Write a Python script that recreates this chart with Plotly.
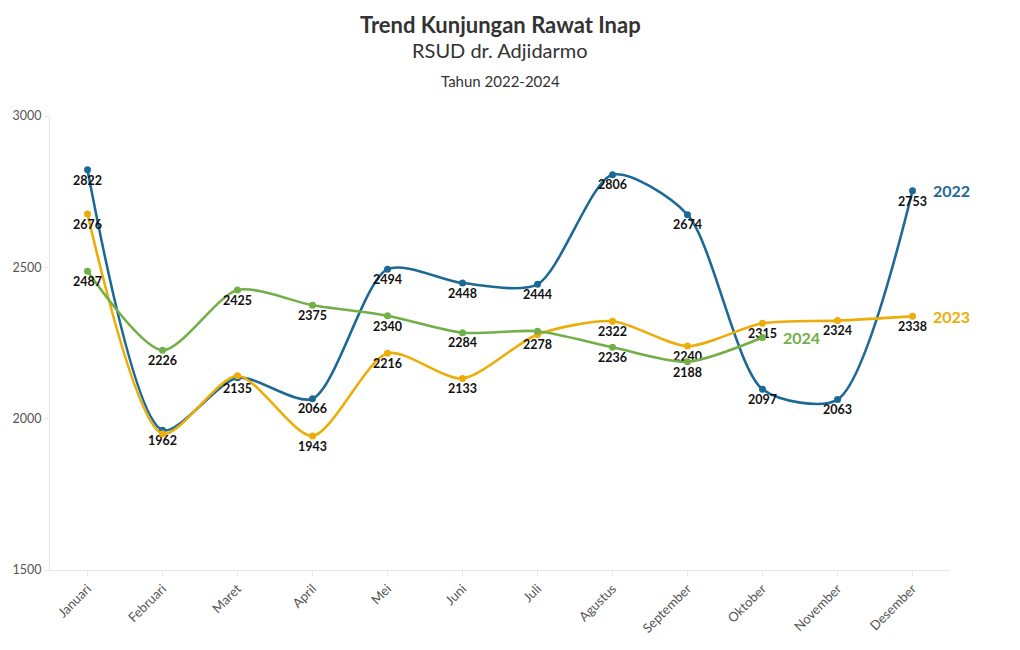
import plotly.graph_objects as go

months = ["Januari", "Februari", "Maret", "April", "Mei", "Juni", "Juli",
          "Agustus", "September", "Oktober", "November", "Desember"]
v2022 = [2822, 1962, 2135, 2066, 2494, 2448, 2444, 2806, 2674, 2097, 2063, 2753]
v2023 = [2676, 1950, 2142, 1943, 2216, 2133, 2278, 2322, 2240, 2315, 2324, 2338]
v2024 = [2487, 2226, 2425, 2375, 2340, 2284, 2289, 2236, 2188, 2268]
# labels hidden where they overlap in the reference
show2022 = [True] * 12
show2023 = [True, False, False, True, True, True, True, True, True, True, True, True]
show2024 = [True, True, True, True, True, True, False, True, True, False]

series = [
    ("2022", v2022, show2022, "#1D6996"),
    ("2023", v2023, show2023, "#EDAD08"),
    ("2024", v2024, show2024, "#73AF48"),
]

FONT = "Source Sans Pro, Lato, Noto Sans, sans-serif"

fig = go.Figure()
for name, vals, show, col in series:
    fig.add_trace(go.Scatter(
        x=months[:len(vals)], y=vals, name=name,
        mode="lines+markers+text",
        line=dict(color=col, width=2.6, shape="spline", smoothing=0.75),
        marker=dict(color=col, size=7),
        text=[str(v) if s else "" for v, s in zip(vals, show)],
        textposition="bottom center",
        textfont=dict(family=FONT, size=12.5, color="#111111", weight="bold"),
        cliponaxis=False,
        showlegend=False,
    ))
    fig.add_annotation(
        x=months[len(vals) - 1], y=vals[-1], text=f"<b>{name}</b>",
        showarrow=False, xanchor="left", xshift=18, yshift=0,
        font=dict(family=FONT, size=16, color=col),
    )

fig.add_annotation(xref="paper", yref="paper", x=0.5, y=1.0, yshift=92, yanchor="middle",
                   text="<b>Trend Kunjungan Rawat Inap</b>", showarrow=False,
                   font=dict(family=FONT, size=22, color="#333333"))
fig.add_annotation(xref="paper", yref="paper", x=0.5, y=1.0, yshift=66, yanchor="middle",
                   text="RSUD dr. Adjidarmo", showarrow=False,
                   font=dict(family=FONT, size=20, color="#333333"))
fig.add_annotation(xref="paper", yref="paper", x=0.5, y=1.0, yshift=35, yanchor="middle",
                   text="Tahun 2022-2024", showarrow=False,
                   font=dict(family=FONT, size=15, color="#333333"))

fig.update_layout(
    width=1012, height=642,
    margin=dict(l=42, r=70, t=108, b=80),
    paper_bgcolor="white", plot_bgcolor="white",
    font=dict(family=FONT, color="#555555"),
)
fig.update_xaxes(
    type="category", range=[-0.5, 11.5], tickangle=-45, automargin=False,
    showgrid=False, showline=True, linecolor="#e6e6e6", linewidth=1,
    ticks="outside", ticklen=5, tickcolor="#e6e6e6",
    tickfont=dict(family=FONT, size=13, color="#555555"),
)
fig.update_yaxes(
    range=[1500, 3000], tickvals=[1500, 2000, 2500, 3000], automargin=False,
    showgrid=False, zeroline=False, showline=True, linecolor="#e6e6e6", linewidth=1,
    ticks="outside", ticklen=5, tickcolor="#e6e6e6",
    tickfont=dict(family=FONT, size=12.5, color="#555555"),
)

fig.write_html("out.html")
